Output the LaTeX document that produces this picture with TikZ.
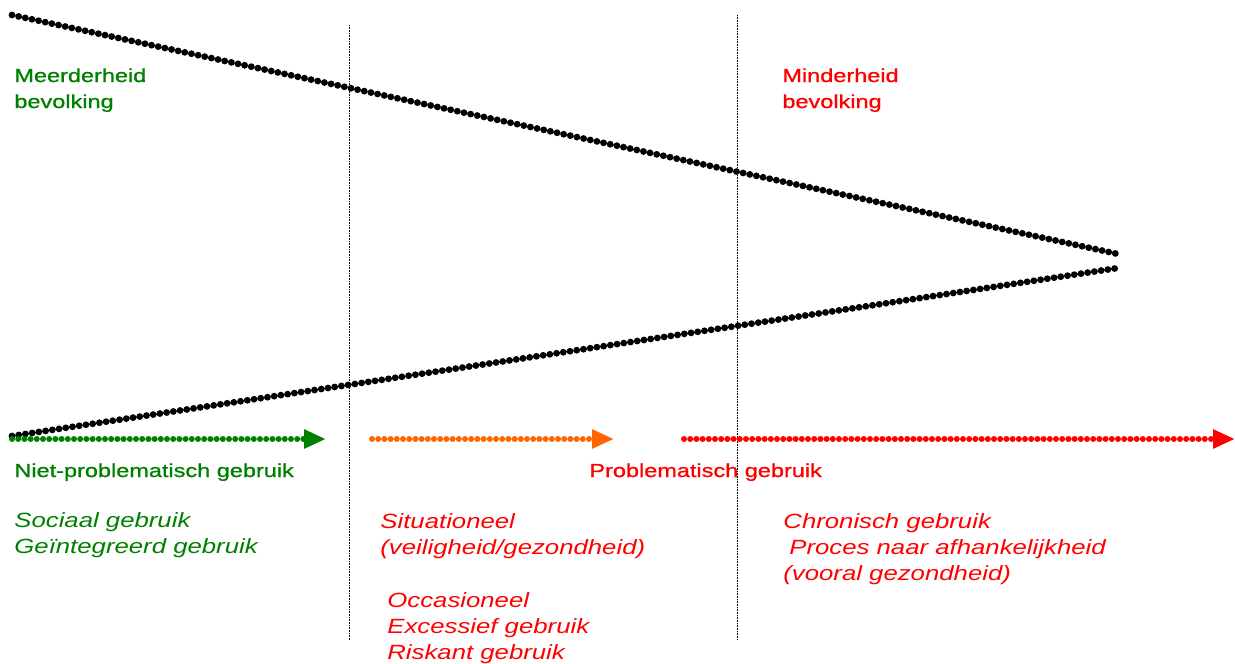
\documentclass[tikz,border=0pt]{standalone}
\usepackage{fontspec}
\setmainfont{Liberation Sans}[FakeStretch=1.25]
\newfontfamily\headfont{Liberation Sans}[FakeStretch=1.25, FakeBold=1]
\usetikzlibrary{arrows.meta}
\definecolor{grn}{RGB}{0,128,0}
\definecolor{orng}{RGB}{255,102,0}
\definecolor{rd}{RGB}{255,0,0}

\begin{document}
\begin{tikzpicture}[x=0.5pt, y=-0.5pt,
  beads/.style={line width=3.4pt, line cap=round, dash pattern=on 0pt off 3.4pt},
  divider/.style={line width=0.5pt, dash pattern=on 0.4pt off 0.4pt},
  flow/.style={line width=3pt, line cap=round, dash pattern=on 0pt off 3.1pt, -{Triangle[length=11pt,width=9pt]}},
  head/.style={anchor=north west, inner sep=0pt, align=left, font=\fontsize{9.4}{13}\selectfont\headfont},
  kind/.style={anchor=north west, inner sep=0pt, align=left, font=\fontsize{10.3}{13}\selectfont\itshape}]
\useasboundingbox (0,0) rectangle (1235,663);
\coordinate (topL) at (12,15);
\coordinate (topR) at (1118,254);
\coordinate (botL) at (12,436);
\coordinate (botR) at (1118,268);
\coordinate (cut1a) at (349,25);
\coordinate (cut1b) at (349,640);
\coordinate (cut2a) at (737,15);
\coordinate (cut2b) at (737,640);
\coordinate (g0) at (12,439);
\coordinate (g1) at (326,439);
\coordinate (o0) at (372,439);
\coordinate (o1) at (614,439);
\coordinate (r0) at (684,439);
\coordinate (r1) at (1235,439);
% wedge and dividers
\draw[divider] (cut1a) -- (cut1b);
\draw[divider] (cut2a) -- (cut2b);
\draw[beads] (topL) -- (topR);
\draw[beads] (botL) -- (botR);
\draw[flow, grn] (g0) -- (g1);
\draw[flow, orng] (o0) -- (o1);
\draw[flow, rd] (r0) -- (r1);
% labels
\node[head, grn] (meer) at (14,68) {Meerderheid\\bevolking};
\node[head, rd] (minder) at (782,68) {Minderheid\\bevolking};
\node[head, grn] (nietprob) at (14,463) {Niet-problematisch gebruik};
\node[head, rd] (prob) at (589,463) {Problematisch gebruik};
\node[kind, grn] (sociaal) at (14,512) {Sociaal gebruik\\Geïntegreerd gebruik};
\node[kind, rd] (situatie) at (380,513) {Situationeel\\(veiligheid/gezondheid)};
\node[kind, rd] (occasie) at (387,592) {Occasioneel\\Excessief gebruik\\Riskant gebruik};
\node[kind, rd] (chronisch) at (783,513) {Chronisch gebruik\\\hspace{3pt}Proces naar afhankelijkheid\\(vooral gezondheid)};
\end{tikzpicture}
\end{document}
